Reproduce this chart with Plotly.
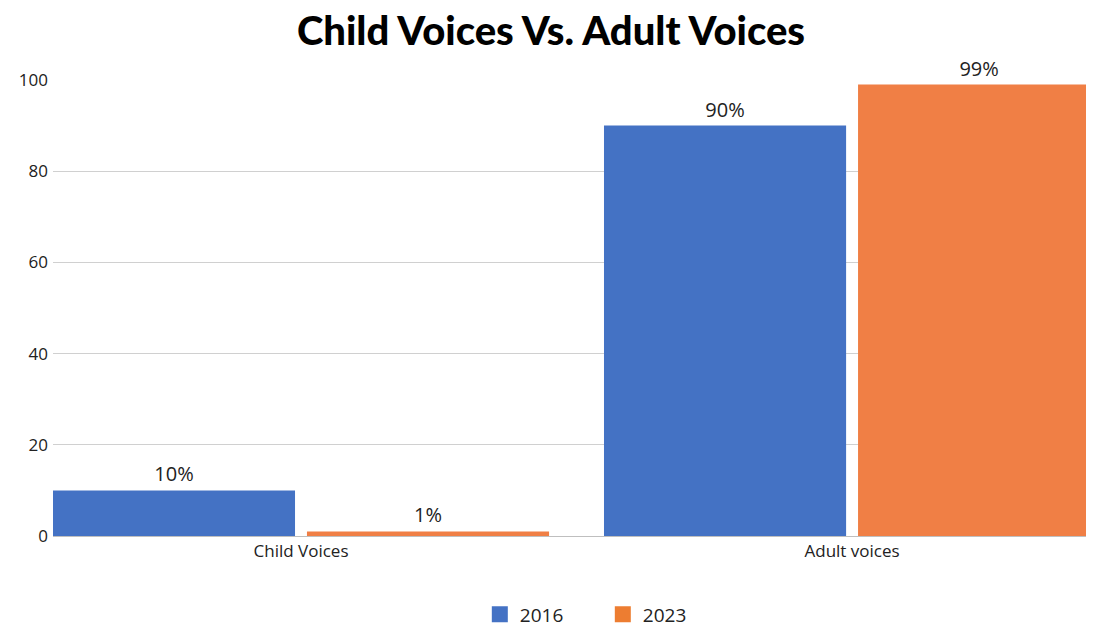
import plotly.graph_objects as go

categories = ["Child Voices", "Adult voices"]
series_names = ["2016", "2023"]
values_2016 = [10, 90]
values_2023 = [1, 99]
y_ticks = [0, 20, 40, 60, 80, 100]

colors = ["#4472C4", "#F07F45"]
legend_colors = ["#4472C4", "#ED7D31"]
txt_font = dict(family="Open Sans, Noto Sans, sans-serif", size=20, color="#222222")

fig = go.Figure()
for name, vals, col in zip(series_names, [values_2016, values_2023], colors):
    fig.add_trace(go.Bar(
        x=categories, y=vals, name=name, marker=dict(color=col, line=dict(width=0)),
        text=[f"{v}%" for v in vals], textposition="outside", cliponaxis=False,
        textfont=txt_font, showlegend=False,
    ))
# legend-only entries with larger square swatches
for name, col in zip(series_names, legend_colors):
    fig.add_trace(go.Scatter(
        x=[None], y=[None], mode="markers", name=name,
        marker=dict(symbol="square", size=16, color=col), showlegend=True,
    ))

fig.update_layout(
    width=1086, height=621,
    margin=dict(l=45, r=0, t=72, b=93, autoexpand=False),
    paper_bgcolor="white", plot_bgcolor="white",
    barmode="group", bargap=0.078, bargroupgap=0.047,
    title=dict(text="Child Voices Vs. Adult Voices", x=0.5, xanchor="center",
               y=0.985, yanchor="top",
               font=dict(family="Lato, Inter, sans-serif", size=40, color="black", weight=900)),
    font=dict(family="Open Sans, Noto Sans, sans-serif", size=16, color="#222222"),
    showlegend=True,
    legend=dict(orientation="h", x=0.41, xanchor="left", y=-0.13, yanchor="top",
                font=dict(size=19, color="#222222"), itemsizing="trace",
                traceorder="normal", itemwidth=30, entrywidth=78),
    xaxis=dict(type="category", range=[-0.45, 1.439], showgrid=False, automargin=False,
               showline=True, linecolor="#bfbfbf", linewidth=1, ticks="",
               tickfont=dict(size=17, color="#222222")),
    yaxis=dict(range=[0, 100], tickvals=y_ticks, showgrid=True, gridcolor="#d0d0d0",
               gridwidth=1, zeroline=False, showline=False, ticks="", automargin=False,
               tickfont=dict(size=17, color="#222222"), ticklabelstandoff=4),
)

fig.write_html("out.html")
